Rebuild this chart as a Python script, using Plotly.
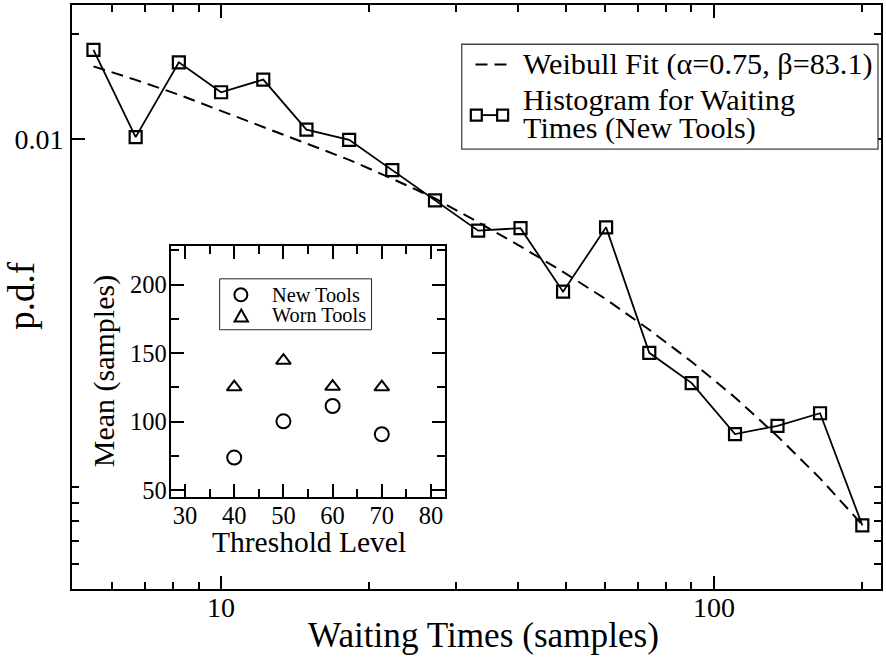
import plotly.graph_objects as go

# ---------------- data ----------------
wait_times = [5.51, 6.71, 8.21, 10.0, 12.18, 14.9, 18.19, 22.25, 27.16, 33.23,
              40.5, 49.4, 60.4, 73.9, 90.1, 110.3, 134.5, 164.1, 199.9]
hist_pdf = [0.01799, 0.01011, 0.01658, 0.01360, 0.01479, 0.01062, 0.00993,
            0.00813, 0.00666, 0.00545, 0.00554, 0.00364, 0.00557, 0.00243,
            0.00199, 0.00142, 0.00150, 0.00163, 0.000777]
weibull_pdf = [0.01614, 0.01476, 0.01338, 0.01203, 0.01082, 0.00973, 0.00870,
               0.00768, 0.00674, 0.00576, 0.00491, 0.00415, 0.00346, 0.00283,
               0.00229, 0.00181, 0.00140, 0.00106, 0.00078]

threshold = [40, 50, 60, 70]
mean_new = [73.8, 100.2, 111.4, 90.8]
mean_worn = [125.2, 144.6, 125.6, 125.2]

x_major = [10, 100]
x_minor = [6, 7, 8, 9, 20, 30, 40, 50, 60, 70, 80, 90, 200]
y_major = [0.01]
y_minor = [0.02, 0.001, 0.0009, 0.0008, 0.0007, 0.0006]
inset_x_major = [30, 40, 50, 60, 70, 80]
inset_x_minor = [35, 45, 55, 65, 75]
inset_y_major = [50, 100, 150, 200]
inset_y_minor = [75, 125, 175, 225]

FONT = "Liberation Serif"
W, H = 886, 658
ML, MR, MT, MB = 72, 3, 4, 69
PW, PH = W - ML - MR, H - MT - MB


def PX(px):
    return (px - ML) / PW


def PY(py):
    return (H - MB - py) / PH


fig = go.Figure()

fig.add_trace(go.Scatter(
    x=wait_times, y=weibull_pdf, mode="lines",
    line=dict(color="black", width=2, dash="12px,7px"),
    showlegend=False, hoverinfo="skip"))
fig.add_trace(go.Scatter(
    x=wait_times, y=hist_pdf, mode="lines+markers",
    line=dict(color="black", width=1.8),
    marker=dict(symbol="square-open", size=12, color="black",
                line=dict(color="black", width=2.2)),
    showlegend=False))

fig.add_trace(go.Scatter(
    x=threshold, y=mean_new, mode="markers", xaxis="x2", yaxis="y2",
    marker=dict(symbol="circle-open", size=14, color="black",
                line=dict(color="black", width=2)),
    showlegend=False))
fig.add_trace(go.Scatter(
    x=threshold, y=mean_worn, mode="markers", xaxis="x2", yaxis="y2",
    marker=dict(symbol="triangle-up-open", size=13, color="black",
                line=dict(color="black", width=2)),
    showlegend=False))

axis_common = dict(
    showgrid=False, zeroline=False, showline=True, linecolor="black",
    linewidth=2, mirror="ticks", ticks="inside", tickcolor="black",
    tickwidth=2, tickmode="array",
)

fig.update_layout(
    width=W, height=H, autosize=False,
    margin=dict(l=ML, r=MR, t=MT, b=MB),
    paper_bgcolor="white", plot_bgcolor="white",
    font=dict(family=FONT, color="black"),
    xaxis=dict(
        type="log", range=[0.6976, 2.3387],
        tickvals=x_major, ticktext=[str(v) for v in x_major], ticklen=13,
        tickfont=dict(size=28, family=FONT, color="black"),
        ticklabelstandoff=-8,
        minor=dict(tickmode="array", tickvals=x_minor, ticklen=7,
                   tickwidth=2, tickcolor="black", ticks="inside",
                   showgrid=False),
        **axis_common),
    yaxis=dict(
        type="log", range=[-3.2923, -1.616],
        tickvals=y_major, ticktext=["0.01"], ticklen=13,
        tickfont=dict(size=28, family=FONT, color="black"),
        ticklabelstandoff=1,
        minor=dict(tickmode="array", tickvals=y_minor, ticklen=7,
                   tickwidth=2, tickcolor="black", ticks="inside",
                   showgrid=False),
        **axis_common),
    xaxis2=dict(
        domain=[PX(171), PX(445.7)], anchor="y2", range=[27.1, 82.8],
        tickvals=inset_x_major, ticklen=13,
        tickfont=dict(size=24.5, family=FONT, color="black"),
        ticklabelstandoff=-4,
        minor=dict(tickmode="array", tickvals=inset_x_minor, ticklen=8,
                   tickwidth=2, tickcolor="black", ticks="inside",
                   showgrid=False),
        **axis_common),
    yaxis2=dict(
        domain=[PY(496.7), PY(245.7)], anchor="x2", range=[45.1, 228],
        tickvals=inset_y_major, ticklen=13,
        tickfont=dict(size=24.5, family=FONT, color="black"),
        ticklabelstandoff=-3,
        minor=dict(tickmode="array", tickvals=inset_y_minor, ticklen=8,
                   tickwidth=2, tickcolor="black", ticks="inside",
                   showgrid=False),
        **axis_common),
)

annotations = []


def txt(text, x, y, size, xanchor="left", angle=0):
    annotations.append(dict(
        text=text, x=PX(x), y=PY(y), xref="paper", yref="paper",
        xanchor=xanchor, yanchor="middle", showarrow=False, textangle=angle,
        font=dict(family=FONT, size=size, color="black")))


# axis titles
txt("Waiting Times (samples)", 485, 636, 35.2, xanchor="center")
txt("p.d.f", 21, 295, 37, xanchor="center", angle=-90)
txt("Threshold Level", 310, 542, 29.5, xanchor="center")
txt("Mean (samples)", 104, 371, 30, xanchor="center", angle=-90)

# main legend
txt("Weibull Fit (\u03b1=0.75, \u03b2=83.1)", 521.7, 63.5, 30.2)
txt("Histogram for Waiting", 521.7, 99.5, 30.2)
txt("Times (New Tools)", 521.7, 127, 30.2)

# inset legend
txt("New Tools", 270, 294.2, 20.3)
txt("Worn Tools", 270, 315, 20.3)

fig.update_layout(annotations=annotations)

shapes = []


def rect(x0, y0, x1, y1, width=1.2, color="#333", fill="rgba(0,0,0,0)"):
    shapes.append(dict(type="rect", xref="paper", yref="paper",
                       x0=PX(x0), x1=PX(x1), y0=PY(y1), y1=PY(y0),
                       line=dict(color=color, width=width), fillcolor=fill,
                       layer="above"))


def seg(x0, y0, x1, y1, width=2, dash="solid"):
    shapes.append(dict(type="line", xref="paper", yref="paper",
                       x0=PX(x0), x1=PX(x1), y0=PY(y0), y1=PY(y1),
                       line=dict(color="black", width=width, dash=dash),
                       layer="above"))


# main legend box and samples
rect(462.7, 43.3, 880, 148.3, width=1.3, color="#444", fill="white")
seg(476.5, 63.5, 508.5, 63.5, width=2, dash="12px,7px")
seg(477.3, 114.3, 503.7, 114.3, width=1.8)
for cx in (477.3, 503.7):
    rect(cx - 5.5, 114.3 - 5.5, cx + 5.5, 114.3 + 5.5, width=2.2,
         color="black", fill="white")

# inset legend box and samples
rect(220, 278.3, 372.3, 329.3, width=1, color="#222", fill="white")
shapes.append(dict(type="circle", xref="paper", yref="paper",
                   x0=PX(234.8), x1=PX(247.8), y0=PY(300.8), y1=PY(287.8),
                   line=dict(color="black", width=2), layer="above"))
tx0, tx1, txm = PX(235), PX(248.4), PX(241.7)
ty0, ty1 = PY(321), PY(309)
shapes.append(dict(type="path", xref="paper", yref="paper",
                   path=f"M {tx0} {ty0} L {tx1} {ty0} L {txm} {ty1} Z",
                   line=dict(color="black", width=2), layer="above"))

fig.update_layout(shapes=shapes)

fig.write_html("out.html",
               config={"displayModeBar": False},
               post_script="document.body.style.margin='0';")
